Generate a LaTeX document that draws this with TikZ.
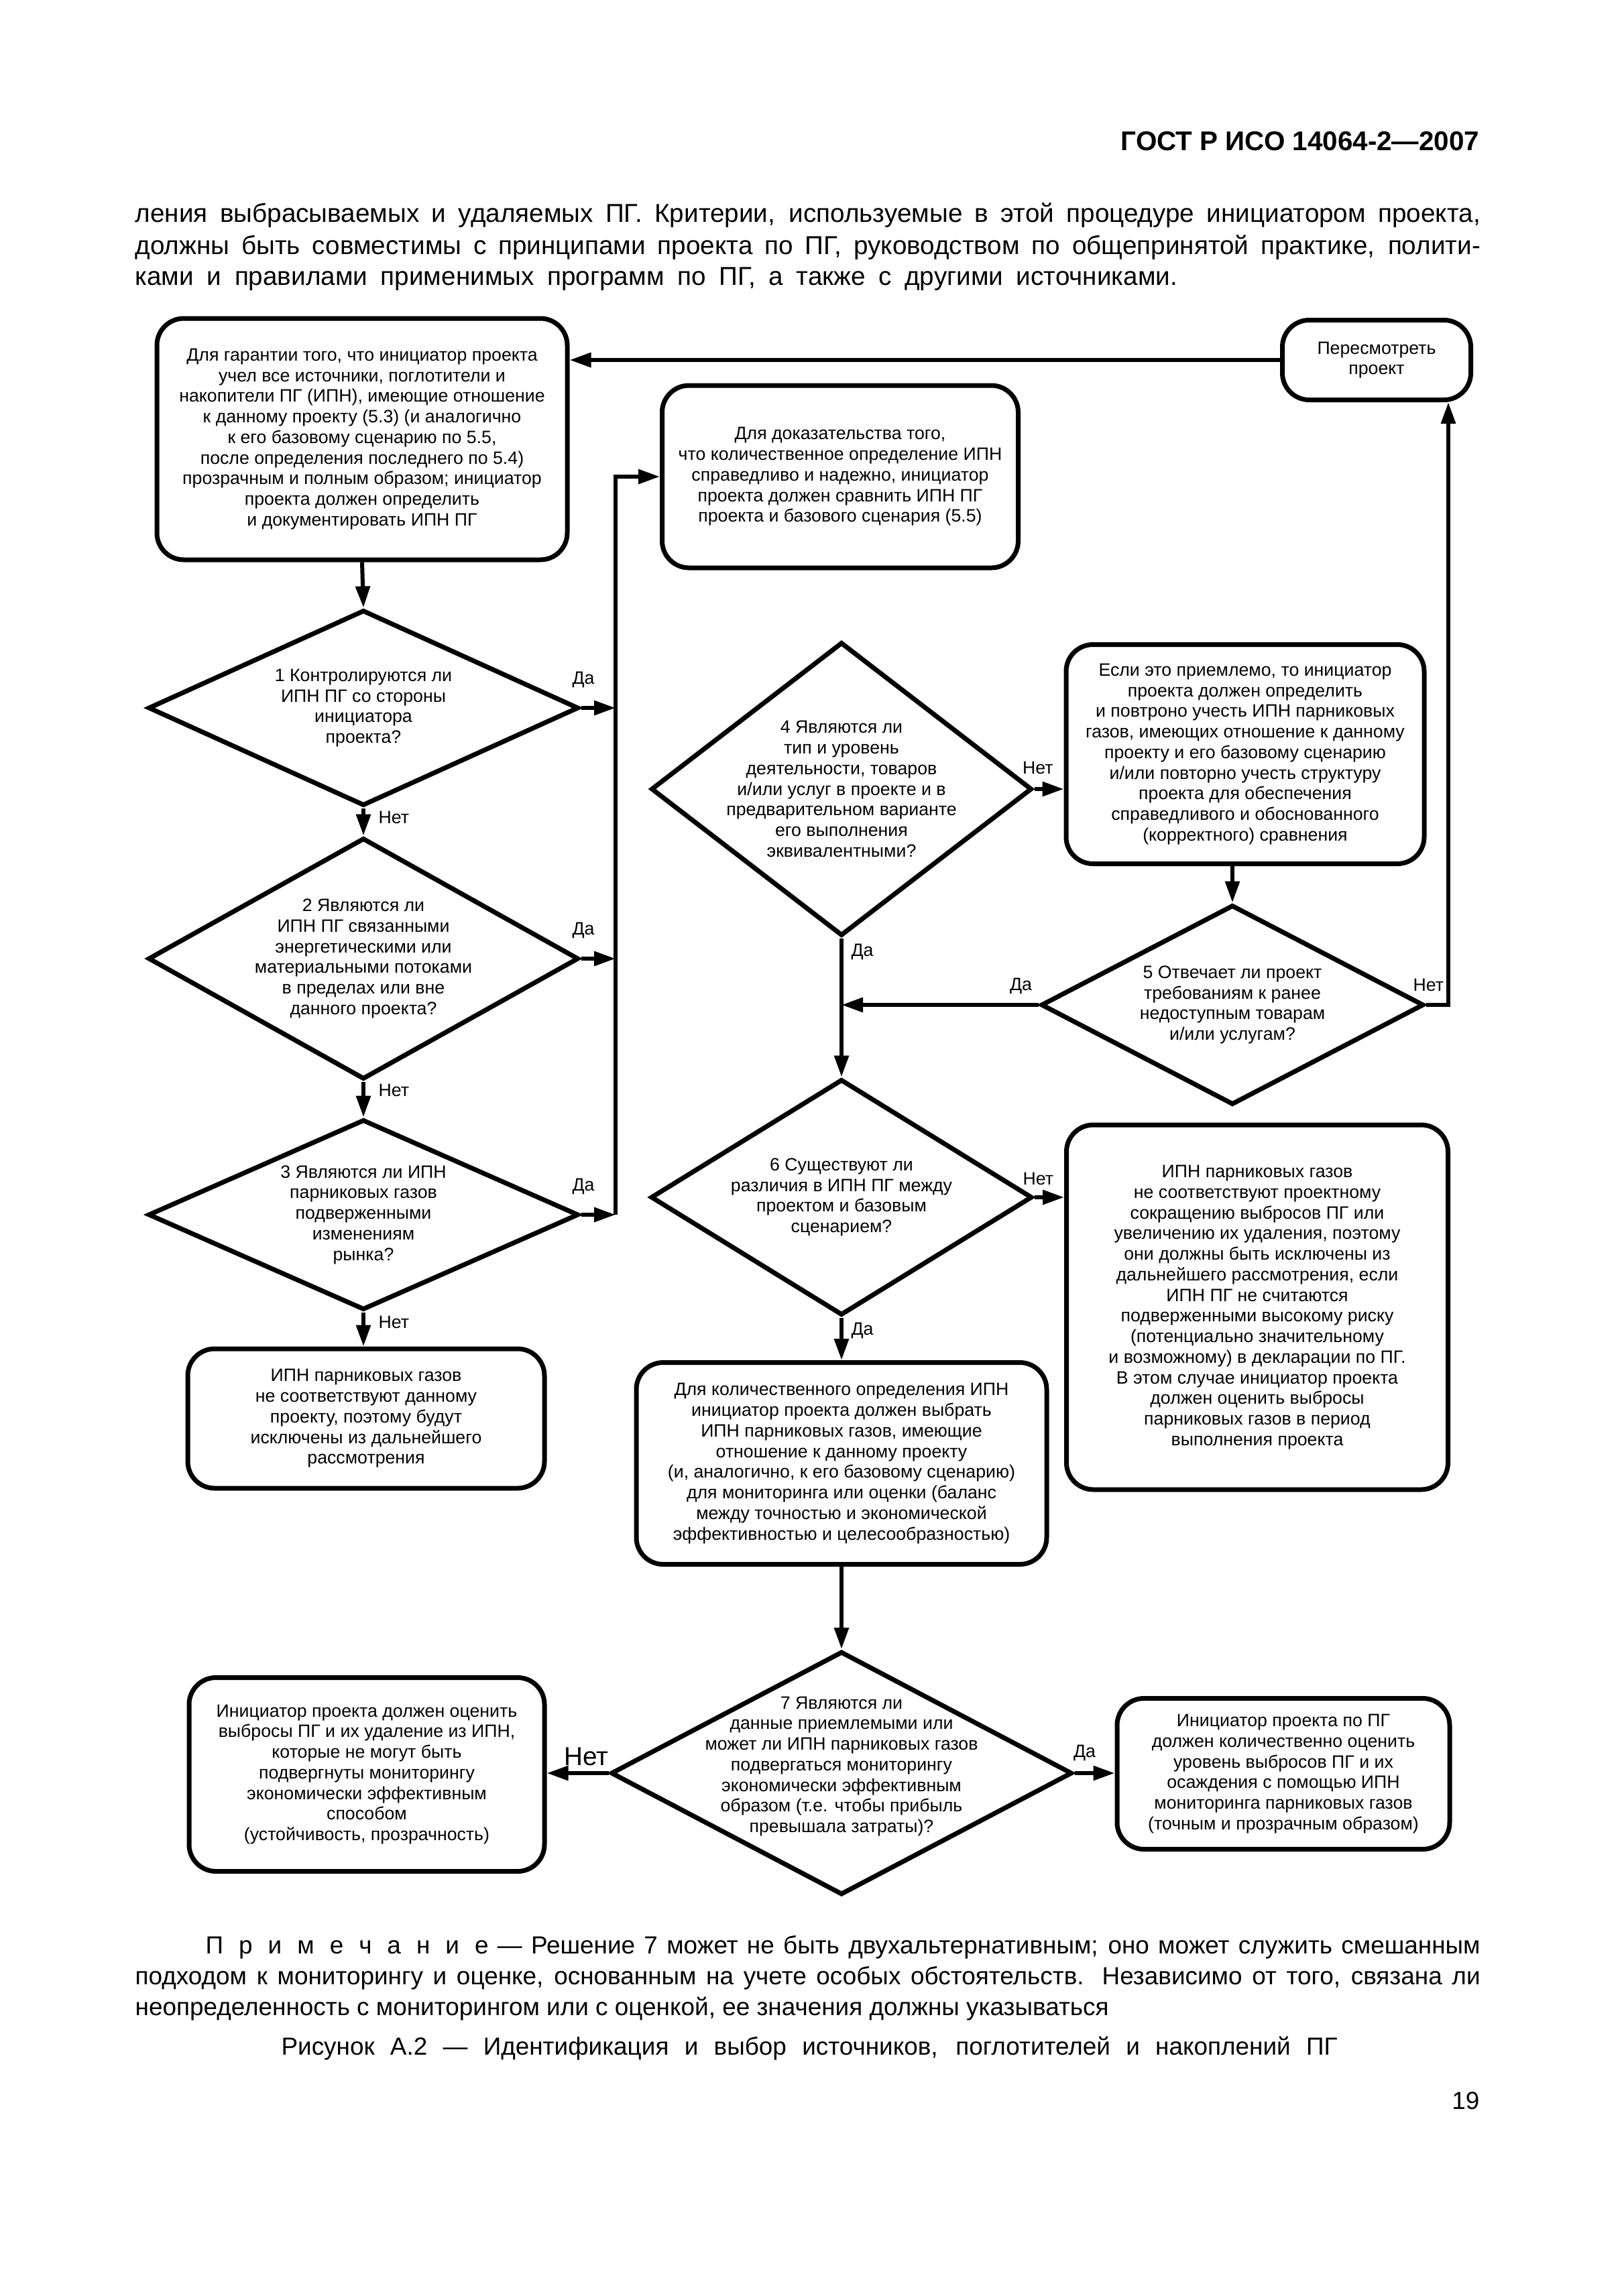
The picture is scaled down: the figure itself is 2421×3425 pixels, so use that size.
\documentclass[tikz,border=0pt]{standalone}
\usepackage{fontspec}
\setmainfont{Liberation Sans}
\usetikzlibrary{positioning,arrows.meta,shapes.geometric}

\newcommand{\dsize}{\fontsize{7.6}{8.75}\selectfont}
\newcommand{\lsp}{\kern2.3mm}

\begin{document}
\begin{tikzpicture}[x=0.1mm, y=-0.1mm,
  box/.style={draw, line width=0.7mm, rounded corners=4mm, align=center, font=\dsize, inner sep=2pt},
  dia/.style={draw, diamond, line width=0.7mm, inner sep=0pt},
  dtxt/.style={align=center, font=\dsize, inner sep=0pt},
  arr/.style={line width=0.6mm, -{Triangle[length=3.2mm,width=2.1mm]}},
  ln/.style={line width=0.6mm},
  lbl/.style={font=\dsize, inner sep=1pt},
  body/.style={font=\fontsize{11}{13}\selectfont, inner sep=0pt, anchor=base west},
  note/.style={font=\fontsize{10.5}{12.5}\selectfont, inner sep=0pt, anchor=base west}
]
\useasboundingbox (0,0) rectangle (2421,3425);

% page head and text
\node[body, anchor=base east, font=\fontsize{11.5}{13}\selectfont\bfseries] (head) at (2207,224) {ГОСТ Р ИСО 14064-2—2007};
\node[body] (p1) at (201,331) {\makebox[200.6mm][s]{ления выбрасываемых и удаляемых ПГ. Критерии, используемые в этой процедуре инициатором проекта,}};
\node[body] (p2) at (201,379) {\makebox[200.6mm][s]{должны быть совместимы с принципами проекта по ПГ, руководством по общепринятой практике, полити-}};
\node[body] (p3) at (201,425) {\makebox[155.4mm][s]{ками и правилами применимых программ по ПГ, а также с другими источниками.}};

% boxes
\node[box, minimum width=61.2mm, minimum height=36mm] (a) at (540,655) {Для гарантии того, что инициатор проекта\\учел все источники, поглотители и\\накопители ПГ (ИПН), имеющие отношение\\к данному проекту (5.3) (и аналогично\\к его базовому сценарию по 5.5,\\после определения последнего по 5.4)\\прозрачным и полным образом; инициатор\\проекта должен определить\\и документировать ИПН ПГ};
\node[box, minimum width=53.1mm, minimum height=27.2mm] (b) at (1253,711) {Для доказательства того,\\что количественное определение ИПН\\справедливо и надежно, инициатор\\проекта должен сравнить ИПН ПГ\\проекта и базового сценария (5.5)};
\node[box, minimum width=28.1mm, minimum height=11.9mm] (r) at (2053,537) {Пересмотреть\\проект};
\node[box, minimum width=53.2mm, minimum height=20.8mm] (c) at (546,2116) {ИПН парниковых газов\\не соответствуют данному\\проекту, поэтому будут\\исключены из дальнейшего\\рассмотрения};
\node[box, minimum width=53.4mm, minimum height=32.7mm] (e) at (1857,1125) {Если это приемлемо, то инициатор\\проекта должен определить\\и повтроно учесть ИПН парниковых\\газов, имеющих отношение к данному\\проекту и его базовому сценарию\\и/или повторно учесть структуру\\проекта для обеспечения\\справедливого и обоснованного\\(корректного) сравнения};
\node[box, minimum width=56.9mm, minimum height=54.4mm] (f) at (1875,1950) {ИПН парниковых газов\\не соответствуют проектному\\сокращению выбросов ПГ или\\увеличению их удаления, поэтому\\они должны быть исключены из\\дальнейшего рассмотрения, если\\ИПН ПГ не считаются\\подверженными высокому риску\\(потенциально значительному\\и возможному) в декларации по ПГ.\\В этом случае инициатор проекта\\должен оценить выбросы\\парниковых газов в период\\выполнения проекта};
\node[box, minimum width=61.2mm, minimum height=30.1mm] (g) at (1255,2183) {Для количественного определения ИПН\\инициатор проекта должен выбрать\\ИПН парниковых газов, имеющие\\отношение к данному проекту\\(и, аналогично, к его базовому сценарию)\\для мониторинга или оценки (баланс\\между точностью и экономической\\эффективностью и целесообразностью)};
\node[box, minimum width=53mm, minimum height=28.9mm] (h) at (547,2647) {Инициатор проекта должен оценить\\выбросы ПГ и их удаление из ИПН,\\которые не могут быть\\подвергнуты мониторингу\\экономически эффективным\\способом\\(устойчивость, прозрачность)};
\node[box, minimum width=49.6mm, minimum height=22.5mm] (i) at (1914,2646) {Инициатор проекта по ПГ\\должен количественно оценить\\уровень выбросов ПГ и их\\осаждения с помощью ИПН\\мониторинга парниковых газов\\(точным и прозрачным образом)};

% decisions
\node[dia, minimum width=64.2mm, minimum height=29.2mm] (d1) at (542,1056) {};
\node[dia, minimum width=64.2mm, minimum height=36mm] (d2) at (542,1430) {};
\node[dia, minimum width=64.2mm, minimum height=28.4mm] (d3) at (542,1812) {};
\node[dia, minimum width=56.8mm, minimum height=43.8mm] (d4) at (1255,1177) {};
\node[dia, minimum width=57.1mm, minimum height=29.8mm] (d5) at (1838,1499) {};
\node[dia, minimum width=56.9mm, minimum height=35.2mm] (d6) at (1255,1786) {};
\node[dia, minimum width=68.8mm, minimum height=36.3mm] (d7) at (1255,2645) {};
\node[dtxt] at (d1) {1 Контролируются ли\\ИПН ПГ со стороны\\инициатора\\проекта?};
\node[dtxt] at (d2) {2 Являются ли\\ИПН ПГ связанными\\энергетическими или\\материальными потоками\\в пределах или вне\\данного проекта?};
\node[dtxt] at (d3) {3 Являются ли ИПН\\парниковых газов\\подверженными\\изменениям\\рынка?};
\node[dtxt] at (d4) {4 Являются ли\\тип и уровень\\деятельности, товаров\\и/или услуг в проекте и в\\предварительном варианте\\его выполнения\\эквивалентными?};
\node[dtxt] at (d5) {5 Отвечает ли проект\\требованиям к ранее\\недоступным товарам\\и/или услугам?};
\node[dtxt] at (d6) {6 Существуют ли\\различия в ИПН ПГ между\\проектом и базовым\\сценарием?};
\node[dtxt] at ([yshift=1mm]d7) {7 Являются ли\\данные приемлемыми или\\может ли ИПН парниковых газов\\подвергаться мониторингу\\экономически эффективным\\образом (т.е. чтобы прибыль\\превышала затраты)?};

\coordinate (bus) at (918,0);
\coordinate (rv) at (2160,0);

% connectors
\draw[arr] (a.south) -- (d1.north);
\draw[arr] (d1.south) -- node[lbl, right=1.6mm, pos=0.35] {Нет} (d2.north);
\draw[arr] (d2.south) -- node[lbl, right=1.6mm, pos=0.24] {Нет} (d3.north);
\draw[arr] (d3.south) -- node[lbl, right=1.6mm, pos=0.3] {Нет} (d3.south |- c.north);
\draw[arr] (d1.east) -- node[lbl, above=2.4mm, pos=0.07] {Да} (d1.east -| bus);
\draw[arr] (d2.east) -- node[lbl, above=2.4mm, pos=0.07] {Да} (d2.east -| bus);
\draw[arr] (d3.east) -- node[lbl, above=2.4mm, pos=0.07] {Да} (d3.east -| bus);
\draw[ln] (d1.east -| bus) -- (d3.east -| bus);
\draw[arr] (d1.east -| bus) -- (b.west -| bus) -- (b.west);
\draw[arr] (r.west) -- (r.west -| a.east);
\draw[arr] (d4.east) -- node[lbl, above=1.6mm, pos=0.12] {Нет} (d4.east -| e.west);
\draw[arr] (d5.north |- e.south) -- (d5.north);
\draw[arr] (d5.west) -- node[lbl, above=1mm, pos=0.09] {Да} (d5.west -| d4.south);
\draw[arr] (d5.east) -- node[lbl, above=1.4mm, pos=0.1] {Нет} (d5.east -| rv) -- (r.south -| rv);
\draw[arr] (d4.south) -- node[lbl, right=0.8mm, pos=0.1] {Да} (d6.north);
\draw[arr] (d6.east) -- node[lbl, above=1.2mm, pos=0.12] {Нет} (d6.east -| f.west);
\draw[arr] (d6.south) -- node[lbl, right=0.8mm, pos=0.3] {Да} (g.north);
\draw[arr] (g.south) -- (d7.north);
\draw[arr] (d7.west) -- node[lbl, above=0.5mm, pos=0.36, font=\fontsize{11}{13}\selectfont] {Нет} (d7.west -| h.east);
\draw[arr] (d7.east) -- node[lbl, above=1.2mm, pos=0.25] {Да} (d7.east -| i.west);

% note and caption
\node[note] (n1) at (306,2914) {\makebox[190.1mm][s]{П\lsp р\lsp и\lsp м\lsp е\lsp ч\lsp а\lsp н\lsp и\lsp е — Решение 7 может не быть двухальтернативным; оно может служить смешанным}};
\node[note] (n2) at (201,2960) {\makebox[200.6mm][s]{подходом к мониторингу и оценке, основанным на учете особых обстоятельств. Независимо от того, связана ли}};
\node[note] (n3) at (201,3006) {неопределенность с мониторингом или с оценкой, ее значения должны указываться};
\node[note, anchor=base] (cap) at (1207,3065) {\makebox[157.5mm][s]{Рисунок А.2 — Идентификация и выбор источников, поглотителей и накоплений ПГ}};
\node[note, anchor=base east] (pg) at (2207,3146) {19};
\end{tikzpicture}
\end{document}
